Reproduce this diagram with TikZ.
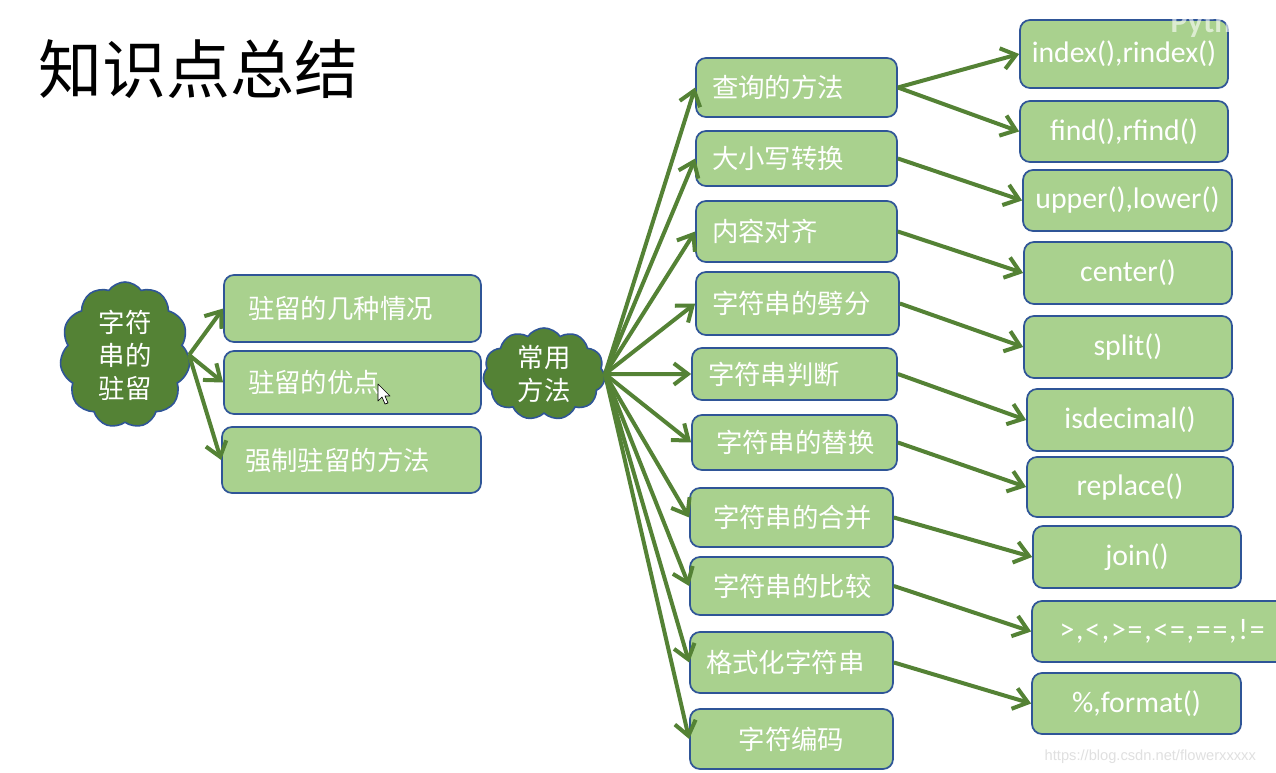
\documentclass[tikz,border=0pt]{standalone}
\usepackage{fontspec}
\newfontfamily\cjk{Noto Sans CJK SC}
\newfontfamily\latf{Carlito}
\newfontfamily\urlf{Liberation Sans}
\usetikzlibrary{shapes.symbols,arrows.meta}
\definecolor{gfill}{HTML}{A9D18E}
\definecolor{bord}{HTML}{2F5597}
\definecolor{dgreen}{HTML}{548235}
\begin{document}
\begin{tikzpicture}[x=0.75pt,y=-0.75pt,
  box/.style={draw=bord, fill=gfill, line width=1.3pt, rounded corners=7.5pt, text=white,
    inner ysep=0pt, font=\cjk\fontsize{19.8}{24}\selectfont},
  lbox/.style={box, align=left, inner xsep=12pt},
  cbox/.style={box, align=center, inner xsep=0pt},
  latb/.style={cbox, font=\latf\fontsize{22.3}{26}\selectfont},
  cloudn/.style={cloud, cloud puffs=11, cloud puff arc=110, cloud ignores aspect, draw=bord, fill=dgreen, line width=1.2pt,
    text=white, align=center, inner sep=0pt, font=\cjk\fontsize{19.8}{24.75}\selectfont},
  arr/.style={draw=dgreen, line width=3pt, -{Straight Barb[length=10.5pt,width=16pt]}}]
\useasboundingbox (0,0) rectangle (1276,773);
\fill[white] (0,0) rectangle (1276,773);

\node[font=\cjk\fontsize{48}{48}\selectfont] (title) at (198,69) {知识点总结};

% left part
\node[cloudn, minimum width=97.5pt, minimum height=109.5pt] (cl1) at (125,355) {字符\\串的\\驻留};
\node[lbox, inner xsep=18pt, text width=156.75pt, minimum height=50.25pt] (a) at (352.5,308.5) {驻留的几种情况};
\node[lbox, inner xsep=18pt, text width=156.75pt, minimum height=47.25pt] (b) at (352.5,382.5) {驻留的优点};
\node[lbox, inner xsep=17.25pt, text width=159.75pt, minimum height=49.5pt] (c) at (351.5,460) {强制驻留的方法};

\node[cloudn, minimum width=91.5pt, minimum height=69pt] (cl2) at (544,374) {常用\\方法};

% middle column
\node[lbox, text width=126.75pt, minimum height=44.25pt] (m1) at (796.5,87.5) {查询的方法};
\node[lbox, text width=126.75pt, minimum height=41.25pt] (m2) at (796.5,158.5) {大小写转换};
\node[lbox, text width=126.75pt, minimum height=45.75pt] (m3) at (796.5,231.5) {内容对齐};
\node[lbox, text width=128.25pt, minimum height=47.25pt] (m4) at (797.5,303.5) {字符串的劈分};
\node[lbox, text width=129.75pt, minimum height=39pt] (m5) at (794.5,374) {字符串判断};
\node[lbox, inner xsep=18pt, text width=117.75pt, minimum height=41.25pt] (m6) at (794.5,442.5) {字符串的替换};
\node[lbox, inner xsep=17.25pt, text width=117.75pt, minimum height=44.25pt] (m7) at (791.5,517.5) {字符串的合并};
\node[lbox, inner xsep=17.25pt, text width=117.75pt, minimum height=43.5pt] (m8) at (791.5,586) {字符串的比较};
\node[lbox, text width=128.25pt, minimum height=45.75pt] (m9) at (791.5,662.5) {格式化字符串};
\node[cbox, minimum width=152.25pt, minimum height=45pt] (m10) at (791.5,739) {字符编码};

% right column
\node[latb, minimum width=156pt, minimum height=51pt] (r1) at (1124,54) {index(),rindex()};
\node[latb, minimum width=156pt, minimum height=45.75pt] (r2) at (1124,131.5) {find(),rfind()};
\node[latb, minimum width=156.75pt, minimum height=45.75pt] (r3) at (1127.5,200.5) {upper(),lower()};
\node[latb, minimum width=156pt, minimum height=46.5pt] (r4) at (1128,273) {center()};
\node[latb, minimum width=156pt, minimum height=46.5pt] (r5) at (1128,347) {split()};
\node[latb, minimum width=154.5pt, minimum height=46.5pt] (r6) at (1130,420) {isdecimal()};
\node[latb, minimum width=154.5pt, minimum height=45pt] (r7) at (1130,487) {replace()};
\node[latb, minimum width=156pt, minimum height=46.5pt] (r8) at (1137,557) {join()};
\node[latb, minimum width=195pt, minimum height=45.75pt] (r9) at (1162,631.5) {\addfontfeature{LetterSpace=6}>,<,>=,<=,==,!=};
\node[latb, minimum width=156.75pt, minimum height=45.75pt] (r10) at (1136.5,703.5) {\%,format()};

% connectors
\draw[arr] (cl1.east) -- (a.west);
\draw[arr] (cl1.east) -- (b.west);
\draw[arr] (cl1.east) -- (c.west);
\foreach \m in {m1,m2,m3,m4,m5,m6,m7,m8,m9,m10}
  \draw[arr] (cl2.east) -- (\m.west);
\draw[arr] (m1.east) -- (r1.west);
\draw[arr] (m1.east) -- (r2.west);
\draw[arr] (m2.east) -- (r3.west);
\draw[arr] (m3.east) -- (r4.west);
\draw[arr] (m4.east) -- (r5.west);
\draw[arr] (m5.east) -- (r6.west);
\draw[arr] (m6.east) -- (r7.west);
\draw[arr] (m7.east) -- (r8.west);
\draw[arr] (m8.east) -- (r9.west);
\draw[arr] (m9.east) -- (r10.west);

% mouse pointer
\draw[fill=white, draw=black, line width=0.5pt, line join=round]
  (378,384) -- (378,401) -- (382,397) -- (385,404) -- (388,403) -- (385,396) -- (390,396) -- cycle;

% watermarks
\node[font=\latf\bfseries\fontsize{24}{24}\selectfont, text=white, opacity=0.6, anchor=west] (py) at (1166,24) {Pyth};
\node[font=\urlf\fontsize{11}{12}\selectfont, text=black!12, anchor=west] (wm) at (1040,757) {https://blog.csdn.net/flowerxxxxx};
\end{tikzpicture}
\end{document}
